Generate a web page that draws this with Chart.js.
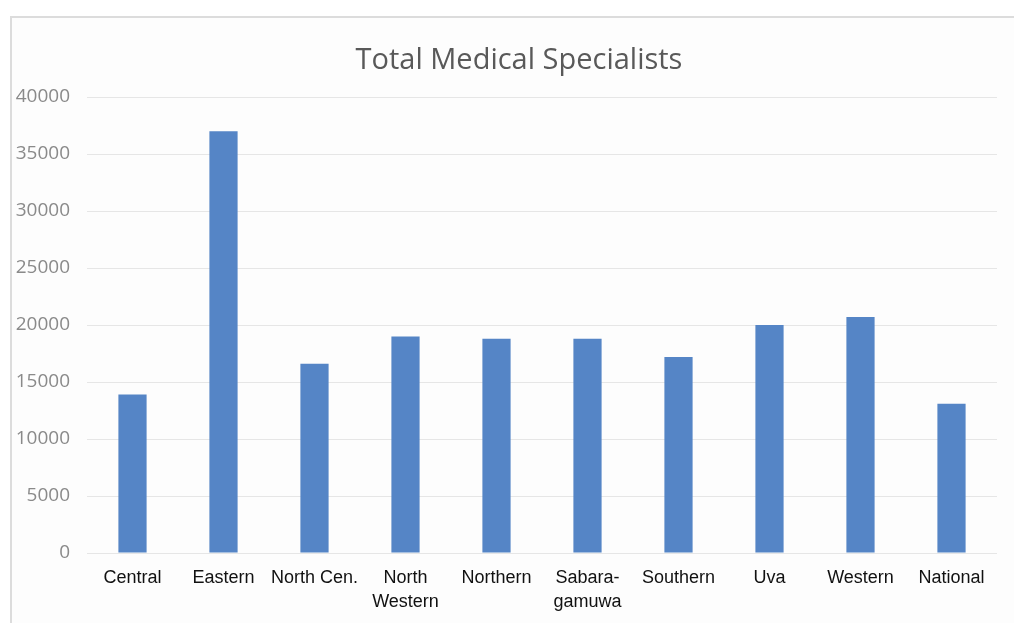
<!DOCTYPE html>
<html>
<head>
<meta charset="utf-8">
<script src="https://cdn.jsdelivr.net/npm/chart.js@4"></script>
<style>
    html, body { margin: 0; padding: 0; background: #fff; }
    #wrap { position: relative; width: 1014px; height: 623px; overflow: hidden; }
    #frame { position: absolute; left: 10px; top: 16px; width: 1020px; height: 620px;
             border-top: 2px solid #dcdcdc; border-left: 2px solid #dcdcdc; background: #fdfdfd; }
    #chart { position: absolute; left: 0; top: 0; }
    #title { position: absolute; left: 0; top: 40px; width: 1038px; text-align: center;
             font-family: 'Open Sans', sans-serif; font-size: 29px; line-height: 35px; color: #595959; }
</style>
</head>
<body>
<div id="wrap">
    <div id="frame"></div>
    <canvas id="chart" width="1014" height="623"></canvas>
    <div id="title">Total Medical Specialists</div>
</div>
<script>
// chart data
const regions = ['Central', 'Eastern', 'North Cen.', ['North', 'Western'], 'Northern',
    ['Sabara-', 'gamuwa'], 'Southern', 'Uva', 'Western', 'National'];
const specialists = [13900, 37000, 16600, 19000, 18800, 18800, 17200, 20000, 20700, 13100];
const yTicks = [0, 5000, 10000, 15000, 20000, 25000, 30000, 35000, 40000];

window.onload = function () {
    const ctx = document.getElementById('chart').getContext('2d');

    new Chart(ctx, {
        type: 'bar',
        data: {
            labels: regions,
            datasets: [{
                label: 'Total Medical Specialists',
                data: specialists,
                backgroundColor: '#5585c6',
                categoryPercentage: 1,
                barPercentage: 0.31
            }]
        },
        options: {
            responsive: false,
            animation: false,
            // title is the html div above, so leave room for it at the top
            layout: {padding: {left: 0, right: 17, top: 97, bottom: 0}},
            plugins: {
                legend: {display: false},
                tooltip: {enabled: false},
                title: {display: false}
            },
            scales: {
                x: {
                    grid: {display: false},
                    border: {display: false},
                    ticks: {
                        color: '#111',
                        font: {family: 'Liberation Sans', size: 18, lineHeight: 1.28},
                        padding: 6,
                        maxRotation: 0,
                        autoSkip: false
                    },
                    afterFit: function (scale) { scale.height = 70; }
                },
                y: {
                    min: 0,
                    max: 40000,
                    afterBuildTicks: function (scale) {
                        scale.ticks = yTicks.map(v => ({value: v}));
                    },
                    grid: {color: '#e6e6e6', lineWidth: 1, drawTicks: false},
                    border: {display: false},
                    ticks: {
                        color: '#8a8a8a',
                        font: {family: 'Open Sans', size: 19},
                        padding: 17,
                        callback: v => String(v)
                    },
                    afterFit: function (scale) { scale.width = 87; }
                }
            }
        }
    });
}
</script>
</body>
</html>
